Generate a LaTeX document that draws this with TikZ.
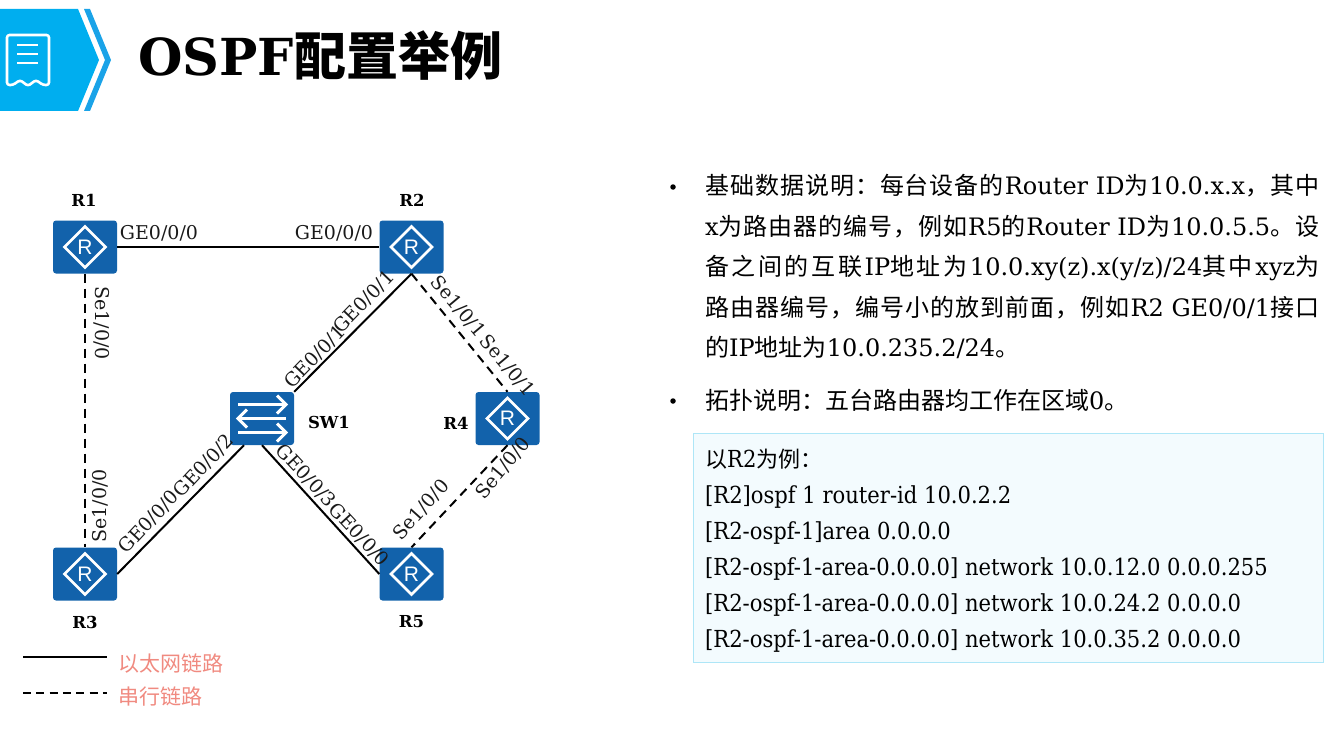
\documentclass[tikz,border=0pt]{standalone}
\usepackage{fontspec}
\usetikzlibrary{calc}
\setmainfont{DejaVu Serif}
\newfontfamily\cjk{Noto Sans CJK SC}
\newfontfamily\boxlat{DejaVu Serif Condensed}
\def\Sp#1{\ifx#1\relax\else #1\hskip 0pt plus 1pt\relax\expandafter\Sp\fi}
\newcommand{\C}[1]{{\cjk\Sp#1\relax}}
\newcommand{\D}[1]{{\fontsize{22}{22}\selectfont\cjk #1}}
\newcommand{\J}[1]{\hbox to 614pt{\spaceskip=7.6pt\relax #1\unskip}}
\definecolor{hwblue}{HTML}{1262AB}
\definecolor{hdrcyan}{HTML}{00AEEF}
\definecolor{hdrblue}{HTML}{1AA3E8}
\definecolor{salmon}{HTML}{F08A80}
\definecolor{boxfill}{HTML}{F3FBFE}
\definecolor{boxline}{HTML}{AEE6F7}
\definecolor{labelc}{HTML}{1A1A1A}
\tikzset{
  device/.style={draw=none,fill=hwblue,rounded corners=3pt,minimum width=64pt,minimum height=53pt,inner sep=0pt},
  devname/.style={font=\fontsize{16.5}{16.5}\selectfont\bfseries,text=black,inner sep=0pt},
  portlabel/.style={font=\fontsize{19}{19}\selectfont,text=labelc,inner sep=0pt},
  eth/.style={draw=black,line width=2pt},
  serial/.style={draw=black,line width=2pt,dash pattern=on 9pt off 6pt},
  legendtext/.style={font=\fontsize{21}{21}\selectfont\cjk,text=salmon,anchor=west,inner sep=0pt},
  bodyline/.style={font=\fontsize{24}{24}\selectfont,text=black,anchor=base west,inner sep=0pt},
  cfgline/.style={font=\fontsize{23.45}{23.45}\selectfont\boxlat,text=black,anchor=base west,inner sep=0pt},
  bullet/.style={fill=black,circle,inner sep=0pt,minimum size=5.5pt},
  iconline/.style={draw=white,line width=2.6pt}
}
\newcommand{\routericon}[1]{%
  \draw[iconline,line join=miter] ($(#1)+(-20.5,0)$) -- ($(#1)+(0,-20.5)$) -- ($(#1)+(20.5,0)$) -- ($(#1)+(0,20.5)$) -- cycle;
  \node[inner sep=0pt,text=white,font=\fontsize{21}{21}\fontspec{Liberation Sans}] at (#1) {R};
}
\begin{document}
\begin{tikzpicture}[x=1pt,y=-1pt]
\useasboundingbox (0,0) rectangle (1337,733);
% header
\fill[hdrcyan] (0,9) -- (78,9) -- (99,60) -- (78,111) -- (0,111) -- cycle;
\fill[hdrblue] (84,9) -- (90,9) -- (111,60) -- (90,111) -- (84,111) -- (105,60) -- cycle;
\draw[iconline,rounded corners=2.5pt,line join=round] (7,35) -- (49,35) -- (49,85) -- (43,85) -- (36,80) -- (28,86) -- (20,80) -- (13,85) -- (7,85) -- cycle;
\draw[iconline] (17,45) -- (38,45) (17,54) -- (38,54) (17,63) -- (38,63);
\node[font=\fontsize{51}{51}\selectfont\bfseries,anchor=base west,inner sep=0pt] (title) at (138,76) {OSPF{\fontspec{Noto Sans CJK SC Bold}\fontsize{52}{52}\selectfont 配置举例}};
% devices
\node[device] (r1) at (85,247) {};
\node[device] (r2) at (411.5,247) {};
\node[device] (r3) at (85,574) {};
\node[device] (r5) at (411.5,574) {};
\node[device] (r4) at (507.5,418.5) {};
\node[device] (sw) at (262,418.5) {};
% connectors
\draw[eth] (r1.east) -- (r2.west);
\draw[eth] (r2.south) -- (sw.north east);
\draw[eth] (r3.east) -- ([xshift=-18pt]sw.south);
\draw[eth] (sw.south) -- (r5.west);
\draw[serial] (r1.south) -- (r3.north);
\draw[serial] (r2.south) -- (r4.north);
\draw[serial] (r4.south) -- (r5.north);
% icons
\routericon{r1}\routericon{r2}\routericon{r3}\routericon{r4}\routericon{r5}
\foreach \dy/\a/\b in {-14/-24/24,0/24/-24,14/-24/24}{
  \draw[iconline,line width=3pt] ($(sw)+(\a,\dy)$) -- ($(sw)+(\b,\dy)$);
}
\draw[iconline,line width=3pt] ($(sw)+(15,-23)$) -- ($(sw)+(24,-14)$) -- ($(sw)+(15,-5)$);
\draw[iconline,line width=3pt] ($(sw)+(-15,-9)$) -- ($(sw)+(-24,0)$) -- ($(sw)+(-15,9)$);
\draw[iconline,line width=3pt] ($(sw)+(15,5)$) -- ($(sw)+(24,14)$) -- ($(sw)+(15,23)$);
% device names
\node[devname] (n1) at (84,200) {R1};
\node[devname] (n2) at (412,200) {R2};
\node[devname] (n3) at (85,622) {R3};
\node[devname] (n5) at (411.5,622) {R5};
\node[devname] (n4) at (456,423) {R4};
\node[devname] (n6) at (329,422) {SW1};
% port labels
\node[portlabel] (p1) at (159,233) {GE0/0/0};
\node[portlabel] (p2) at (334,233) {GE0/0/0};
\node[portlabel,rotate=-90] (p3) at (102,323) {Se1/0/0};
\node[portlabel,rotate=90] (p4) at (100,506) {Se1/0/0};
\node[portlabel,rotate=47] (p5) at (149,522) {GE0/0/0};
\node[portlabel,rotate=47] (p6) at (204,466) {GE0/0/2};
\node[portlabel,rotate=46] (p7) at (315,357) {GE0/0/1};
\node[portlabel,rotate=46] (p8) at (364,302) {GE0/0/1};
\node[portlabel,rotate=-50] (p9) at (458,307) {Se1/0/1};
\node[portlabel,rotate=-50] (p10) at (507,366) {Se1/0/1};
\node[portlabel,rotate=50] (p11) at (503,468) {Se1/0/0};
\node[portlabel,rotate=48] (p12) at (421,510) {Se1/0/0};
\node[portlabel,rotate=-47] (p13) at (306,476) {GE0/0/3};
\node[portlabel,rotate=-47] (p14) at (359,535) {GE0/0/0};
% legend
\coordinate (l1a) at (23,657); \coordinate (l1b) at (107,657);
\coordinate (l2a) at (23,693); \coordinate (l2b) at (107,693);
\draw[eth] (l1a) -- (l1b);
\draw[black,line width=2pt,dash pattern=on 8pt off 5.3pt] (l2a) -- (l2b);
\node[legendtext] (t1) at (118,664) {以太网链路};
\node[legendtext] (t2) at (118,697) {串行链路};
% body
\node[bullet] (b1) at (673,187) {};
\node[bullet] (b2) at (673,401) {};
\node[bodyline] (x1) at (705,194) {\J{\C{基础数据说明：每台设备的}Router ID\C{为}10.0.x.x\C{，其中}}};
\node[bodyline] (x2) at (705,235) {\J{x\C{为路由器的编号，例如}R5\C{的}Router ID\C{为}10.0.5.5\C{。设}}};
\node[bodyline] (x3) at (705,275) {\J{\C{备之间的互联}IP\C{地址为}10.0.xy(z).x(y/z)/24\C{其中}xyz\C{为}}};
\node[bodyline] (x4) at (705,316) {\J{\C{路由器编号，编号小的放到前面，例如}R2 GE0/0/1\C{接口}}};
\node[bodyline] (x5) at (705,356) {\C{的}IP\C{地址为}10.0.235.2/24\C{。}};
\node[bodyline] (x6) at (705,409) {\C{拓扑说明：五台路由器均工作在区域}0\C{。}};
% config box
\node[draw=boxline,fill=boxfill,line width=1.2pt,minimum width=630pt,minimum height=229pt,inner sep=0pt,anchor=north west] (cfg) at (693,433) {};
\node[cfgline] (c1) at (705,467) {\D{以}R2\D{为例：}};
\node[cfgline] (c2) at (705,503) {[R2]ospf 1 router-id 10.0.2.2};
\node[cfgline] (c3) at (705,539) {[R2-ospf-1]area 0.0.0.0};
\node[cfgline] (c4) at (705,575) {[R2-ospf-1-area-0.0.0.0] network 10.0.12.0 0.0.0.255};
\node[cfgline] (c5) at (705,611) {[R2-ospf-1-area-0.0.0.0] network 10.0.24.2 0.0.0.0};
\node[cfgline] (c6) at (705,647) {[R2-ospf-1-area-0.0.0.0] network 10.0.35.2 0.0.0.0};
\end{tikzpicture}
\end{document}
